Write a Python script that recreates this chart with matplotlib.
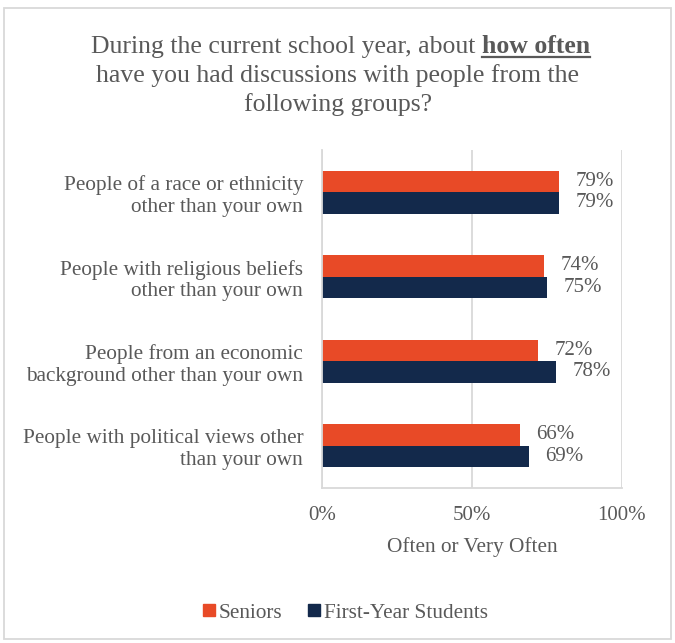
import matplotlib.pyplot as plt
from matplotlib.patches import Rectangle, Patch
from matplotlib.lines import Line2D

categories = ["People of a race or ethnicity\nother than your own",
              "People with religious beliefs\nother than your own",
              "People from an economic\nbackground other than your own",
              "People with political views other\nthan your own"]
seniors = [79, 74, 72, 66]
first_year = [79, 75, 78, 69]
series_names = ["Seniors", "First-Year Students"]
xticks = [0, 50, 100]
xtick_labels = ["0%", "50%", "100%"]

orange = "#E84A27"
navy = "#13294B"
gray_txt = "#595959"
grid_c = "#D9D9D9"

plt.rcParams['font.family'] = ['Liberation Serif', 'DejaVu Serif']

fig = plt.figure(figsize=(6.75, 6.43), dpi=100)
W, H = 675, 643
ax = fig.add_axes([0.477, 0.241, 0.444, 0.526])

h = 0.255
ys = list(range(len(categories)))
ax.barh([y - h / 2 for y in ys], seniors, height=h, color=orange, label=series_names[0])
ax.barh([y + h / 2 for y in ys], first_year, height=h, color=navy, label=series_names[1])

for y, v in zip(ys, seniors):
    ax.annotate(f"{v}%", (v, y - h / 2), xytext=(12, 0), textcoords="offset points",
                va="center", ha="left", fontsize=15, color=gray_txt)
for y, v in zip(ys, first_year):
    ax.annotate(f"{v}%", (v, y + h / 2), xytext=(12, 0), textcoords="offset points",
                va="center", ha="left", fontsize=15, color=gray_txt)

ax.set_xlim(0, 100)
ax.set_ylim(3.5, -0.5)
ax.set_yticks(ys)
ax.set_yticklabels(categories, fontsize=15.3, color=gray_txt, ha="right")
ax.set_xticks(xticks)
ax.set_xticklabels(xtick_labels, fontsize=15, color=gray_txt)
ax.tick_params(axis="y", length=0, pad=13.5)
ax.tick_params(axis="x", length=0, pad=13)
ax.set_xlabel("Often or Very Often", fontsize=15.3, color=gray_txt, labelpad=9)
ax.grid(axis="x", color=grid_c, linewidth=1.3)
ax.set_axisbelow(True)
for s in ["top", "right"]:
    ax.spines[s].set_visible(False)
for s in ["left", "bottom"]:
    ax.spines[s].set_color(grid_c)
    ax.spines[s].set_linewidth(1.3)

# title, with bold underlined "how often"
fs_title = 18.5
base1 = 1 - 53 / H
part1 = fig.text(0, base1, "During the current school year, about ", fontsize=fs_title,
                 color=gray_txt, va="baseline")
part2 = fig.text(0, base1, "how often", fontsize=fs_title, color=gray_txt,
                 fontweight="bold", va="baseline")
fig.canvas.draw()
r = fig.canvas.get_renderer()
w1 = part1.get_window_extent(r).width / fig.bbox.width
w2 = part2.get_window_extent(r).width / fig.bbox.width
x0 = 0.5 + 3 / W - (w1 + w2) / 2
part1.set_x(x0)
part2.set_x(x0 + w1)
ul = 1 - 57 / H
fig.add_artist(Line2D([x0 + w1, x0 + w1 + w2], [ul, ul], color=gray_txt,
                      linewidth=1.6, transform=fig.transFigure))
fig.text(0.5, 1 - 82 / H, "have you had discussions with people from the",
         fontsize=fs_title, color=gray_txt, ha="center", va="baseline")
fig.text(0.5, 1 - 111 / H, "following groups?",
         fontsize=fs_title, color=gray_txt, ha="center", va="baseline")

handles = [Patch(color=orange), Patch(color=navy)]
fig.legend(handles, series_names, loc="center", bbox_to_anchor=(0.512, 1 - 613 / H),
           ncol=2, frameon=False, fontsize=15.3, labelcolor=gray_txt,
           handlelength=0.55, handleheight=0.55, handletextpad=0.2, columnspacing=1.2)

fig.add_artist(Rectangle((0.006, 0.006), 0.988, 0.981, fill=False, edgecolor=grid_c,
                         linewidth=1.3, transform=fig.transFigure))

fig.savefig("out.png", dpi=100)
